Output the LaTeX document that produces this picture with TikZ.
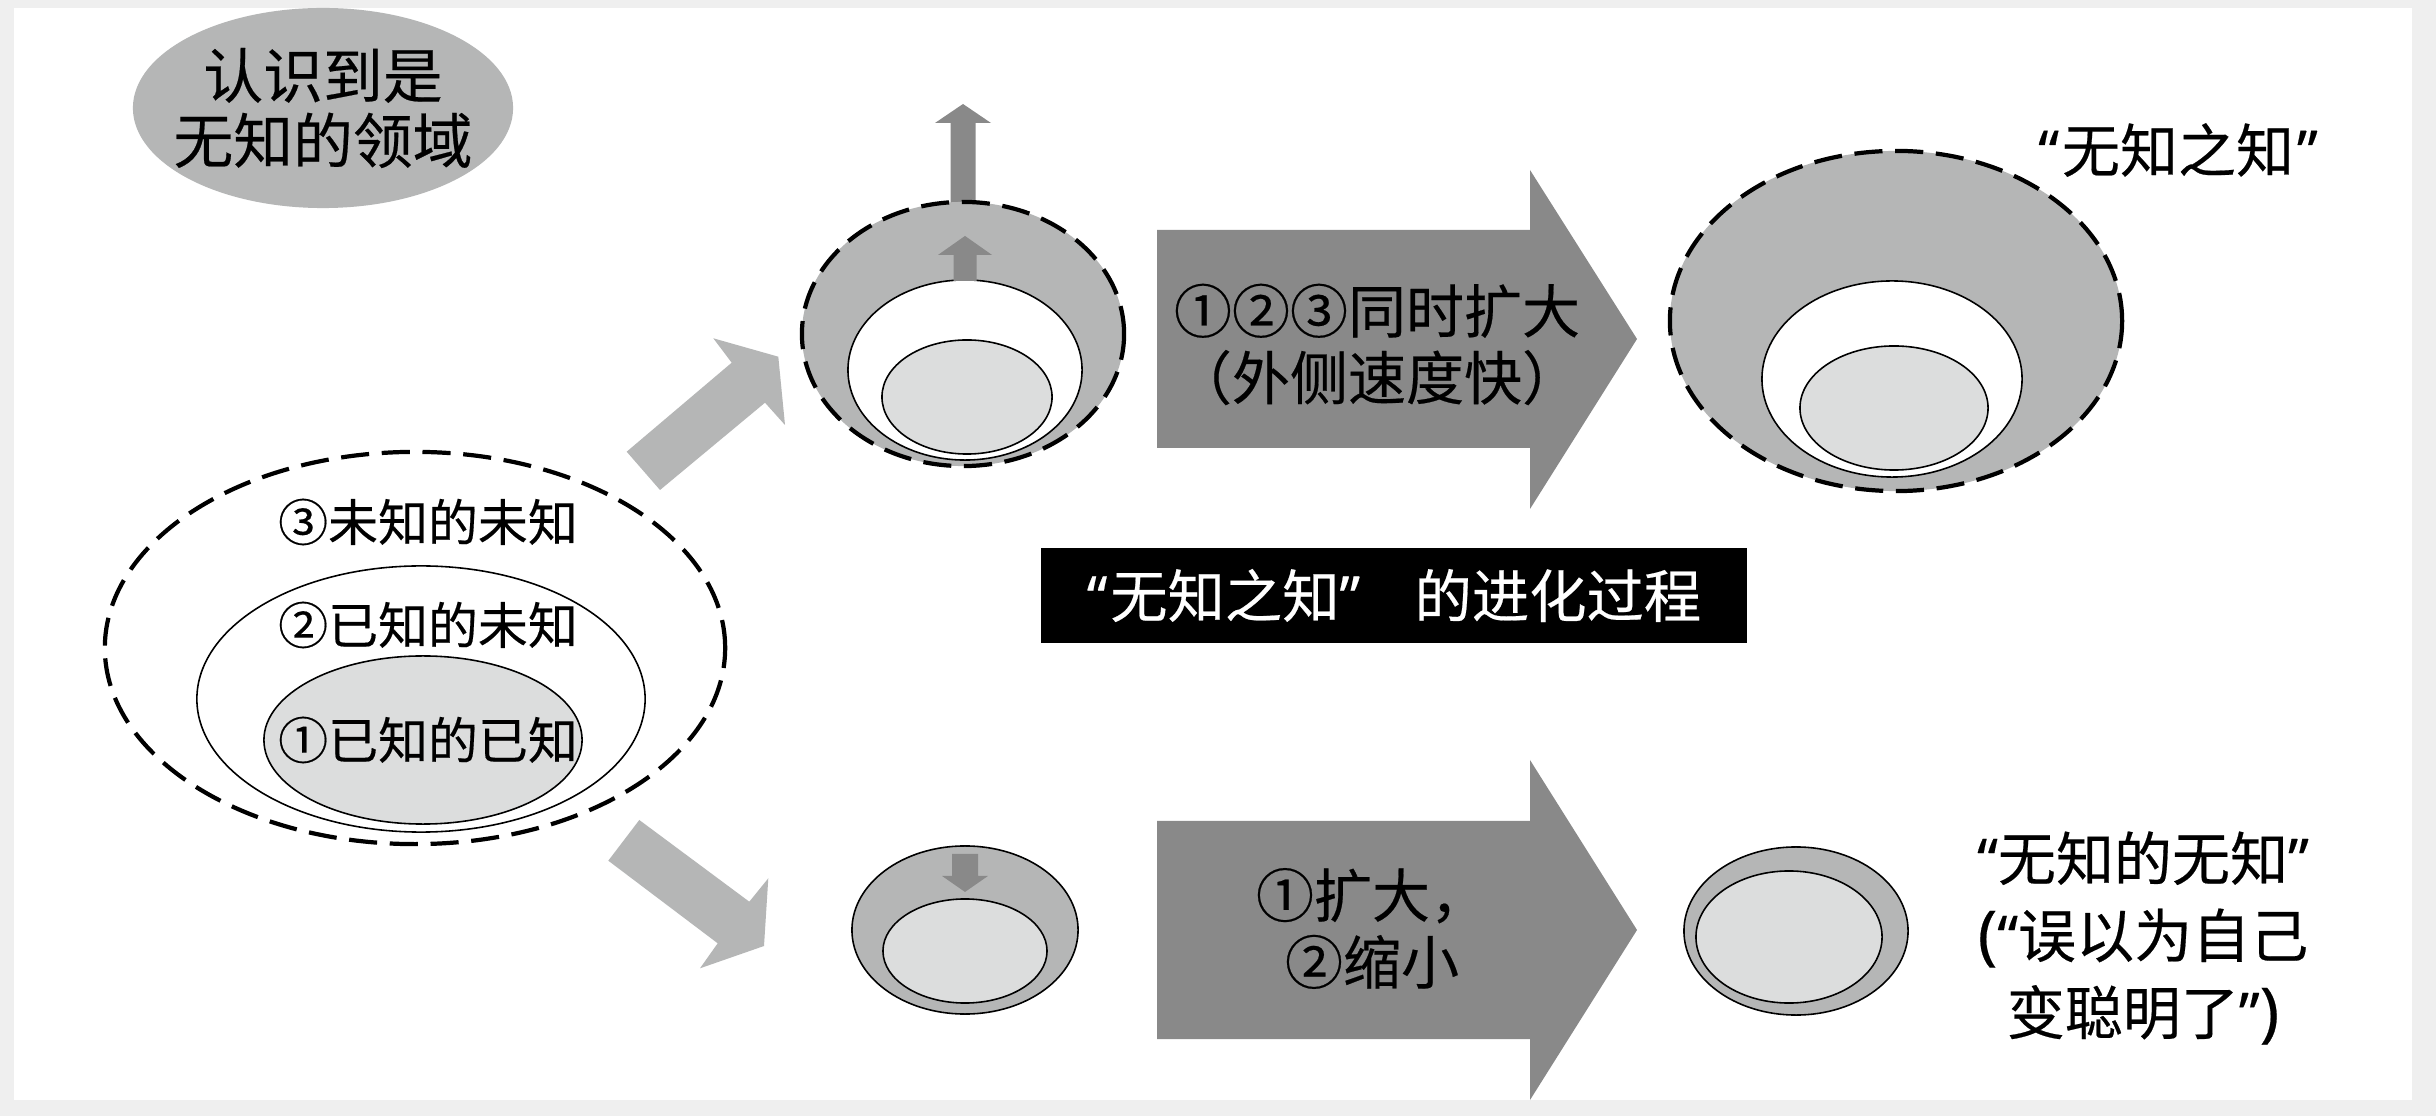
\documentclass[tikz,border=0pt]{standalone}
\usepackage{fontspec}
\setmainfont{Noto Sans CJK SC}[FakeBold=0.35]
\newfontfamily\latinfont{Noto Sans}[FakeBold=0.35]
\newcommand\myoq{{\latinfont “}}
\newcommand\mycq{{\latinfont ”}}
\newcommand\mylp{{\latinfont\fontsize{18.5}{19}\selectfont (}}
\newcommand\myrp{{\latinfont\fontsize{18.5}{19}\selectfont )}}
\usetikzlibrary{shapes.geometric}
\definecolor{bgc}{HTML}{EFEFEF}
\definecolor{ringc}{HTML}{B5B6B6}
\definecolor{corec}{HTML}{DCDDDD}
\definecolor{darkc}{HTML}{898989}
\begin{document}
\begin{tikzpicture}[x=0.01cm,y=-0.01cm,
  ell/.style={ellipse, inner sep=0pt, outer sep=0pt},
  dashring/.style={ell, draw=black, line width=1.2pt, dash pattern=on 8pt off 3.6pt},
  thinring/.style={ell, draw=black, line width=0.45pt},
  lbl/.style={font=\fontsize{16.5}{19}\selectfont, align=center, inner sep=0pt},
  small/.style={font=\fontsize{14.2}{16}\selectfont, inner sep=0pt},
  lightarrow/.style={fill=ringc},
  darkarrow/.style={fill=darkc}]
\useasboundingbox (0,0) rectangle (2436,1116);
\fill[bgc] (0,0) rectangle (2436,1116);
\fill[white] (14,8) rectangle (2412,1100);

% top-left label
\node[ell, fill=ringc, minimum width=3.8cm, minimum height=2.0cm] (realm) at (323,108) {};
\node[lbl, font=\fontsize{17}{18.5}\selectfont] (realmtxt) at (realm.center) {认识到是\\无知的领域};

% left big diagram
\node[dashring, fill=white, minimum width=6.2cm, minimum height=3.92cm] (lo) at (415,648) {};
\node[thinring, fill=white, minimum width=4.48cm, minimum height=2.66cm] (lw) at (421,699) {};
\node[thinring, fill=corec, minimum width=3.18cm, minimum height=1.68cm] (li) at (423,740) {};
\node[small] (l3) at (428,522) {③未知的未知};
\node[small] (l2) at (428,625) {②已知的未知};
\node[small] (l1) at (428,740) {①已知的已知};

% light arrows
\fill[lightarrow] (626.7,451.7) -- (731.7,362.7) -- (713.3,338.3) -- (778.3,356.7) -- (785,425) -- (765,402.7) -- (660,490) -- cycle;
\fill[lightarrow] (639.3,820) -- (749.3,901.7) -- (768.3,878.3) -- (764,946) -- (700,968.3) -- (717.7,943.3) -- (608.3,860.7) -- cycle;

% top small diagram
\coordinate (tsotop) at (963,202);
\fill[darkarrow, shift={(tsotop)}] (-12.5,4) -- (-12.5,-79) -- (-28,-79) -- (0,-98) -- (28,-79) -- (12.5,-79) -- (12.5,4) -- cycle;
\node[dashring, fill=ringc, minimum width=3.22cm, minimum height=2.64cm] (tso) at (963,334) {};
\node[thinring, fill=white, minimum width=2.34cm, minimum height=1.80cm] (tsw) at (965,370) {};
\node[thinring, fill=corec, minimum width=1.70cm, minimum height=1.14cm] (tsi) at (967,397) {};
\fill[darkarrow, shift={(tsw.north)}] (-11.5,1) -- (-11.5,-25) -- (-27,-25) -- (0,-44) -- (27,-25) -- (11.5,-25) -- (11.5,1) -- cycle;

% big dark arrows
\fill[darkarrow] (1157,230) -- (1530,230) -- (1530,170) -- (1637,339) -- (1530,509) -- (1530,448) -- (1157,448) -- cycle;
\node[lbl] (toptxt) at (1377,344.5) {①②③同时扩大\\（外侧速度快）};
\fill[darkarrow] (1157,821) -- (1530,821) -- (1530,760) -- (1637,930) -- (1530,1100) -- (1530,1039) -- (1157,1039) -- cycle;
\node[lbl] (bottxt) at (1372,928.5) {①扩大，\\②缩小};

% top right diagram
\node[dashring, fill=ringc, minimum width=4.52cm, minimum height=3.40cm] (tro) at (1896,321) {};
\node[thinring, fill=white, minimum width=2.60cm, minimum height=1.96cm] (trw) at (1892,379) {};
\node[thinring, fill=corec, minimum width=1.88cm, minimum height=1.24cm] (tri) at (1894,408) {};
\node[lbl] (trlbl) at (2178,150) {\myoq\hspace{0.05em}无知之知\hspace{0.05em}\mycq};

% banner
\node[fill=black, text=white, minimum width=7.06cm, minimum height=0.95cm, inner sep=0pt, font=\fontsize{16.3}{19}\selectfont] (banner) at (1394,595.5) {\myoq\hspace{0.05em}无知之知\mycq\hspace{0.95em}的进化过程};

% bottom middle diagram
\node[thinring, fill=ringc, minimum width=2.26cm, minimum height=1.68cm] (bmo) at (965,930) {};
\node[thinring, fill=corec, minimum width=1.64cm, minimum height=1.04cm] (bmi) at (965,951) {};
\fill[darkarrow, shift={(bmo.north)}] (-13,8) -- (-13,30) -- (-23,30) -- (0,46) -- (23,30) -- (13,30) -- (13,8) -- cycle;

% bottom right diagram
\node[thinring, fill=ringc, minimum width=2.24cm, minimum height=1.68cm] (bro) at (1796,931) {};
\node[thinring, fill=corec, minimum width=1.86cm, minimum height=1.32cm] (bri) at (1789,937) {};
\node[lbl, font=\fontsize{16.5}{21.9}\selectfont] (brlbl) at (2143,938) {\myoq 无知的无知\mycq\\\mylp\myoq 误以为自己\\变聪明了\mycq\myrp};
\end{tikzpicture}
\end{document}
